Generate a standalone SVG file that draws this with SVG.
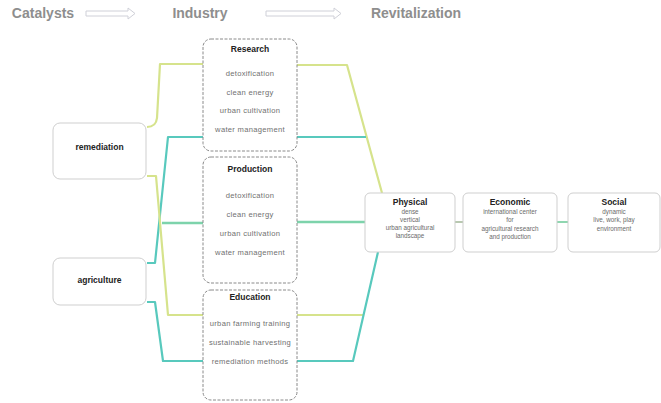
<svg xmlns="http://www.w3.org/2000/svg" width="661" height="403" viewBox="0 0 661 403">
<style>
.hdr{font-family:"Liberation Sans",Arial,sans-serif;font-size:14px;font-weight:bold;fill:#8e8e8e;text-anchor:middle}
.ind{fill:#fff;stroke:#8a8a8a;stroke-width:1;stroke-dasharray:3 1.5}
.box{fill:#fff;stroke:#cfcfcf;stroke-width:1}
.t{font-family:"Liberation Sans",Arial,sans-serif;font-weight:bold;fill:#222;text-anchor:middle;font-size:8.5px}
.i{font-family:"Liberation Sans",Arial,sans-serif;fill:#6a6a6a;text-anchor:middle;font-size:6.3px}
.j{font-family:"Liberation Sans",Arial,sans-serif;fill:#707070;text-anchor:middle;font-size:7.6px;letter-spacing:0.3px}
.y{fill:none;stroke:#d6e38c;stroke-width:2.2;stroke-linejoin:round}
.c{fill:none;stroke:#58c9bd;stroke-width:2.2;stroke-linejoin:round}
.g{fill:none;stroke:#7dd3ab;stroke-width:2.4}
.ar{fill:#fff;stroke:#cfd0d8;stroke-width:1}
</style>
<rect width="661" height="403" fill="#fff"/>
<g id="header">
<text class="hdr" x="43" y="18">Catalysts</text>
<text class="hdr" x="200" y="18">Industry</text>
<text class="hdr" x="416" y="18">Revitalization</text>
<path class="ar" d="M86 11 H128 V8 L135 13.5 L128 19 V16 H86 Z"/>
<path class="ar" d="M266 11 H334 V8 L341 13.5 L334 19 V16 H266 Z"/>
</g>
<g id="connectors">
<path class="y" d="M147 127 Q156 127 157 118 L160 64 H203"/>
<path class="y" d="M297 65 H347 L382 193"/>
<path class="c" d="M147 263 H155 L168 137 H203"/>
<path class="c" d="M297 137 H366"/>
<path class="g" d="M162 223 H203"/>
<path class="g" d="M297 222 H365"/>
<path class="y" d="M147 176 H156 L168 315 H203"/>
<path class="y" d="M297 315 H364"/>
<path class="c" d="M147 302 H155 L163 361 H203"/>
<path class="c" d="M297 361 H353 L378 252"/>
<path d="M455 222 H463" stroke="#b8c8b0" stroke-width="2"/>
<path d="M557 222 H568" stroke="#8fd6b0" stroke-width="2"/>
</g>
<g id="remediation">
<rect class="box" x="53" y="123" width="93" height="56" rx="7"/>
<text class="t" x="99.5" y="150">remediation</text>
</g>
<g id="agriculture">
<rect class="box" x="53" y="258" width="93" height="47" rx="7"/>
<text class="t" x="99.5" y="283">agriculture</text>
</g>
<g id="research">
<rect class="ind" x="203" y="39" width="94" height="112" rx="8"/>
<text class="t" x="250" y="52">Research</text>
<text class="j" x="250" y="76">detoxification</text>
<text class="j" x="250" y="95">clean energy</text>
<text class="j" x="250" y="113">urban cultivation</text>
<text class="j" x="250" y="132">water management</text>
</g>
<g id="production">
<rect class="ind" x="203" y="157" width="94" height="126" rx="8"/>
<text class="t" x="250" y="172">Production</text>
<text class="j" x="250" y="198">detoxification</text>
<text class="j" x="250" y="217">clean energy</text>
<text class="j" x="250" y="236">urban cultivation</text>
<text class="j" x="250" y="255">water management</text>
</g>
<g id="education">
<rect class="ind" x="203" y="290" width="94" height="110" rx="8"/>
<text class="t" x="250" y="300">Education</text>
<text class="j" x="250" y="326">urban farming training</text>
<text class="j" x="250" y="345">sustainable harvesting</text>
<text class="j" x="250" y="364">remediation methods</text>
</g>
<g id="physical">
<rect class="box" x="365" y="193" width="90" height="59" rx="5"/>
<text class="t" x="410" y="205">Physical</text>
<text class="i" x="410" y="214">dense</text>
<text class="i" x="410" y="222">vertical</text>
<text class="i" x="410" y="230">urban agricultural</text>
<text class="i" x="410" y="238">landscape</text>
</g>
<g id="economic">
<rect class="box" x="463" y="193" width="94" height="59" rx="5"/>
<text class="t" x="510" y="205">Economic</text>
<text class="i" x="510" y="214">international center</text>
<text class="i" x="510" y="222">for</text>
<text class="i" x="510" y="231">agricultural research</text>
<text class="i" x="510" y="239">and production</text>
</g>
<g id="social">
<rect class="box" x="568" y="193" width="92" height="59" rx="5"/>
<text class="t" x="614" y="205">Social</text>
<text class="i" x="614" y="214">dynamic</text>
<text class="i" x="614" y="222">live, work, play</text>
<text class="i" x="614" y="231">environment</text>
</g>
</svg>
